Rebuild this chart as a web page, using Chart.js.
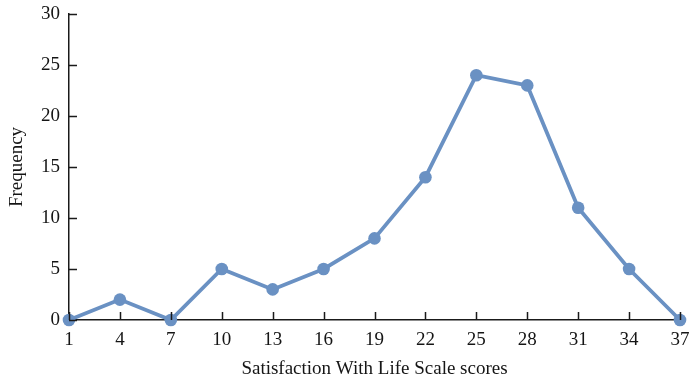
<!DOCTYPE html>
<html>
<head>
<meta charset="utf-8">
<script src="https://cdn.jsdelivr.net/npm/chart.js@4"></script>
<style>
  html, body { margin: 0; padding: 0; background: #fff; }
  #wrap { width: 691px; height: 382px; }
</style>
</head>
<body>
<div id="wrap"><canvas id="lineChart" width="691" height="382"></canvas></div>
<script>
var scores = ['1', '4', '7', '10', '13', '16', '19', '22', '25', '28', '31', '34', '37'];
var frequency = [0, 2, 0, 5, 3, 5, 8, 14, 24, 23, 11, 5, 0];
var yTicks = [0, 5, 10, 15, 20, 25, 30];

var lineColor = '#6a91c3';
var axisColor = '#1a1a1a';
var textColor = '#151515';
var serif = '"Liberation Serif", "Times New Roman", serif';

// small tick marks pointing into the plot, like the printed figure
var innerTicks = {
    id: 'innerTicks',
    afterDraw: function (chart) {
        var ctx = chart.ctx;
        var x = chart.scales.x, y = chart.scales.y;
        var area = chart.chartArea;
        ctx.save();
        ctx.strokeStyle = axisColor;
        ctx.lineWidth = 1.5;
        ctx.beginPath();
        yTicks.forEach(function (v) {
            var py = Math.round(y.getPixelForValue(v)) + 0.5;
            ctx.moveTo(area.left, py);
            ctx.lineTo(area.left + 8, py);
        });
        scores.forEach(function (s, i) {
            var px = Math.round(x.getPixelForValue(i)) + 0.5;
            ctx.moveTo(px, area.bottom);
            ctx.lineTo(px, area.bottom - 8);
        });
        ctx.stroke();
        ctx.restore();
    }
};

var ctx = document.getElementById('lineChart').getContext('2d');
var chart = new Chart(ctx, {
    type: 'line',
    data: {
        labels: scores,
        datasets: [{
            data: frequency,
            borderColor: lineColor,
            backgroundColor: lineColor,
            borderWidth: 3.8,
            pointRadius: 6.3,
            pointBackgroundColor: lineColor,
            pointBorderWidth: 0,
            tension: 0,
            clip: false
        }]
    },
    options: {
        responsive: false,
        animation: false,
        layout: { padding: { top: 14, right: 11, left: 0, bottom: 0 } },
        plugins: {
            legend: { display: false },
            tooltip: { enabled: false }
        },
        scales: {
            x: {
                offset: false,
                grid: { display: false, drawTicks: false },
                border: { display: true, color: axisColor, width: 1.5 },
                ticks: {
                    color: textColor,
                    padding: 9,
                    maxRotation: 0,
                    autoSkip: false,
                    font: { family: serif, size: 19 }
                },
                title: {
                    display: true,
                    text: 'Satisfaction With Life Scale scores',
                    color: textColor,
                    padding: { top: 0, bottom: 2 },
                    font: { family: serif, size: 19 }
                },
                afterFit: function (scale) {
                    scale.height = 62;
                    scale.paddingLeft = 0;
                    scale.paddingRight = 0;
                }
            },
            y: {
                min: 0,
                max: 30,
                grid: { display: false, drawTicks: false },
                border: { display: true, color: axisColor, width: 1.5 },
                afterBuildTicks: function (scale) {
                    scale.ticks = yTicks.map(function (v) { return { value: v }; });
                },
                ticks: {
                    color: textColor,
                    padding: 9,
                    font: { family: serif, size: 19 }
                },
                title: {
                    display: true,
                    text: 'Frequency',
                    color: textColor,
                    padding: { top: 6, bottom: 0 },
                    font: { family: serif, size: 19 }
                },
                afterFit: function (scale) {
                    scale.width = 69;
                    scale.paddingTop = 0;
                    scale.paddingBottom = 0;
                }
            }
        }
    },
    plugins: [innerTicks]
});
</script>
</body>
</html>
